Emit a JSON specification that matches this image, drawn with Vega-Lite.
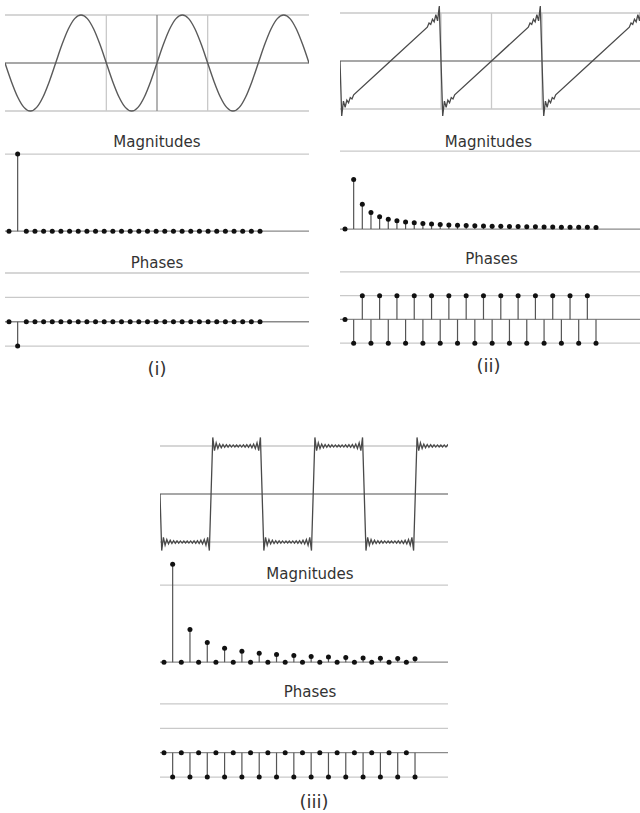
{
"$schema":"https://vega.github.io/schema/vega-lite/v6.json",
"padding":{"left":4,"top":3,"right":0,"bottom":0},
"background":"white",
"config":{"view":{"stroke":null},"title":{"font":"DejaVu Sans","fontSize":15,"fontWeight":"normal","color":"#333333","frame":"group","offset":4}},
"datasets":{
"sine":[{"t":0,"v":0},{"t":0.0625,"v":-0.383},{"t":0.125,"v":-0.707},{"t":0.1875,"v":-0.924},{"t":0.25,"v":-1},{"t":0.3125,"v":-0.924},{"t":0.375,"v":-0.707},{"t":0.4375,"v":-0.383},{"t":0.5,"v":0},{"t":0.5625,"v":0.383},{"t":0.625,"v":0.707},{"t":0.6875,"v":0.924},{"t":0.75,"v":1},{"t":0.8125,"v":0.924},{"t":0.875,"v":0.707},{"t":0.9375,"v":0.383},
{"t":1,"v":0},{"t":1.0625,"v":-0.383},{"t":1.125,"v":-0.707},{"t":1.1875,"v":-0.924},{"t":1.25,"v":-1},{"t":1.3125,"v":-0.924},{"t":1.375,"v":-0.707},{"t":1.4375,"v":-0.383},{"t":1.5,"v":0},{"t":1.5625,"v":0.383},{"t":1.625,"v":0.707},{"t":1.6875,"v":0.924},{"t":1.75,"v":1},{"t":1.8125,"v":0.924},{"t":1.875,"v":0.707},{"t":1.9375,"v":0.383},
{"t":2,"v":0},{"t":2.0625,"v":-0.383},{"t":2.125,"v":-0.707},{"t":2.1875,"v":-0.924},{"t":2.25,"v":-1},{"t":2.3125,"v":-0.924},{"t":2.375,"v":-0.707},{"t":2.4375,"v":-0.383},{"t":2.5,"v":0},{"t":2.5625,"v":0.383},{"t":2.625,"v":0.707},{"t":2.6875,"v":0.924},{"t":2.75,"v":1},{"t":2.8125,"v":0.924},{"t":2.875,"v":0.707},{"t":2.9375,"v":0.383},{"t":3,"v":0}],
"saw":[{"t":0,"v":0},{"t":0.0169,"v":-1.145},{"t":0.0339,"v":-0.835},{"t":0.0508,"v":-0.964},{"t":0.0678,"v":-0.814},{"t":0.0847,"v":-0.87},{"t":0.1017,"v":-0.763},{"t":0.1186,"v":-0.792},{"t":0.1356,"v":-0.704},{"t":0.5,"v":0},{"t":0.8644,"v":0.704},{"t":0.8814,"v":0.792},{"t":0.8983,"v":0.763},{"t":0.9153,"v":0.87},{"t":0.9322,"v":0.814},{"t":0.9492,"v":0.964},{"t":0.9661,"v":0.835},{"t":0.9831,"v":1.145},
{"t":1,"v":0},{"t":1.0169,"v":-1.145},{"t":1.0339,"v":-0.835},{"t":1.0508,"v":-0.964},{"t":1.0678,"v":-0.814},{"t":1.0847,"v":-0.87},{"t":1.1017,"v":-0.763},{"t":1.1186,"v":-0.792},{"t":1.1356,"v":-0.704},{"t":1.5,"v":0},{"t":1.8644,"v":0.704},{"t":1.8814,"v":0.792},{"t":1.8983,"v":0.763},{"t":1.9153,"v":0.87},{"t":1.9322,"v":0.814},{"t":1.9492,"v":0.964},{"t":1.9661,"v":0.835},{"t":1.9831,"v":1.145},
{"t":2,"v":0},{"t":2.0169,"v":-1.145},{"t":2.0339,"v":-0.835},{"t":2.0508,"v":-0.964},{"t":2.0678,"v":-0.814},{"t":2.0847,"v":-0.87},{"t":2.1017,"v":-0.763},{"t":2.1186,"v":-0.792},{"t":2.1356,"v":-0.704},{"t":2.5,"v":0},{"t":2.8644,"v":0.704},{"t":2.8814,"v":0.792},{"t":2.8983,"v":0.763},{"t":2.9153,"v":0.87},{"t":2.9322,"v":0.814},{"t":2.9492,"v":0.964},{"t":2.9661,"v":0.835},{"t":2.9831,"v":1.145},{"t":3,"v":0}],
"square":[{"t":0,"v":0},{"t":0.0167,"v":-1.179},{"t":0.0333,"v":-0.903},{"t":0.05,"v":-1.066},{"t":0.0667,"v":-0.95},{"t":0.0833,"v":-1.041},{"t":0.1,"v":-0.965},{"t":0.1167,"v":-1.031},{"t":0.1333,"v":-0.972},{"t":0.15,"v":-1.026},{"t":0.1667,"v":-0.976},{"t":0.1833,"v":-1.023},{"t":0.2,"v":-0.978},{"t":0.2167,"v":-1.022},{"t":0.2333,"v":-0.979},{"t":0.25,"v":-1.021},{"t":0.2667,"v":-0.979},{"t":0.2833,"v":-1.022},{"t":0.3,"v":-0.978},{"t":0.3167,"v":-1.023},{"t":0.3333,"v":-0.976},{"t":0.35,"v":-1.026},{"t":0.3667,"v":-0.972},{"t":0.3833,"v":-1.031},{"t":0.4,"v":-0.965},{"t":0.4167,"v":-1.041},{"t":0.4333,"v":-0.95},{"t":0.45,"v":-1.066},{"t":0.4667,"v":-0.903},{"t":0.4833,"v":-1.179},
{"t":0.5,"v":0},{"t":0.5167,"v":1.179},{"t":0.5333,"v":0.903},{"t":0.55,"v":1.066},{"t":0.5667,"v":0.95},{"t":0.5833,"v":1.041},{"t":0.6,"v":0.965},{"t":0.6167,"v":1.031},{"t":0.6333,"v":0.972},{"t":0.65,"v":1.026},{"t":0.6667,"v":0.976},{"t":0.6833,"v":1.023},{"t":0.7,"v":0.978},{"t":0.7167,"v":1.022},{"t":0.7333,"v":0.979},{"t":0.75,"v":1.021},{"t":0.7667,"v":0.979},{"t":0.7833,"v":1.022},{"t":0.8,"v":0.978},{"t":0.8167,"v":1.023},{"t":0.8333,"v":0.976},{"t":0.85,"v":1.026},{"t":0.8667,"v":0.972},{"t":0.8833,"v":1.031},{"t":0.9,"v":0.965},{"t":0.9167,"v":1.041},{"t":0.9333,"v":0.95},{"t":0.95,"v":1.066},{"t":0.9667,"v":0.903},{"t":0.9833,"v":1.179},
{"t":1,"v":0},{"t":1.0167,"v":-1.179},{"t":1.0333,"v":-0.903},{"t":1.05,"v":-1.066},{"t":1.0667,"v":-0.95},{"t":1.0833,"v":-1.041},{"t":1.1,"v":-0.965},{"t":1.1167,"v":-1.031},{"t":1.1333,"v":-0.972},{"t":1.15,"v":-1.026},{"t":1.1667,"v":-0.976},{"t":1.1833,"v":-1.023},{"t":1.2,"v":-0.978},{"t":1.2167,"v":-1.022},{"t":1.2333,"v":-0.979},{"t":1.25,"v":-1.021},{"t":1.2667,"v":-0.979},{"t":1.2833,"v":-1.022},{"t":1.3,"v":-0.978},{"t":1.3167,"v":-1.023},{"t":1.3333,"v":-0.976},{"t":1.35,"v":-1.026},{"t":1.3667,"v":-0.972},{"t":1.3833,"v":-1.031},{"t":1.4,"v":-0.965},{"t":1.4167,"v":-1.041},{"t":1.4333,"v":-0.95},{"t":1.45,"v":-1.066},{"t":1.4667,"v":-0.903},{"t":1.4833,"v":-1.179},
{"t":1.5,"v":0},{"t":1.5167,"v":1.179},{"t":1.5333,"v":0.903},{"t":1.55,"v":1.066},{"t":1.5667,"v":0.95},{"t":1.5833,"v":1.041},{"t":1.6,"v":0.965},{"t":1.6167,"v":1.031},{"t":1.6333,"v":0.972},{"t":1.65,"v":1.026},{"t":1.6667,"v":0.976},{"t":1.6833,"v":1.023},{"t":1.7,"v":0.978},{"t":1.7167,"v":1.022},{"t":1.7333,"v":0.979},{"t":1.75,"v":1.021},{"t":1.7667,"v":0.979},{"t":1.7833,"v":1.022},{"t":1.8,"v":0.978},{"t":1.8167,"v":1.023},{"t":1.8333,"v":0.976},{"t":1.85,"v":1.026},{"t":1.8667,"v":0.972},{"t":1.8833,"v":1.031},{"t":1.9,"v":0.965},{"t":1.9167,"v":1.041},{"t":1.9333,"v":0.95},{"t":1.95,"v":1.066},{"t":1.9667,"v":0.903},{"t":1.9833,"v":1.179},
{"t":2,"v":0},{"t":2.0167,"v":-1.179},{"t":2.0333,"v":-0.903},{"t":2.05,"v":-1.066},{"t":2.0667,"v":-0.95},{"t":2.0833,"v":-1.041},{"t":2.1,"v":-0.965},{"t":2.1167,"v":-1.031},{"t":2.1333,"v":-0.972},{"t":2.15,"v":-1.026},{"t":2.1667,"v":-0.976},{"t":2.1833,"v":-1.023},{"t":2.2,"v":-0.978},{"t":2.2167,"v":-1.022},{"t":2.2333,"v":-0.979},{"t":2.25,"v":-1.021},{"t":2.2667,"v":-0.979},{"t":2.2833,"v":-1.022},{"t":2.3,"v":-0.978},{"t":2.3167,"v":-1.023},{"t":2.3333,"v":-0.976},{"t":2.35,"v":-1.026},{"t":2.3667,"v":-0.972},{"t":2.3833,"v":-1.031},{"t":2.4,"v":-0.965},{"t":2.4167,"v":-1.041},{"t":2.4333,"v":-0.95},{"t":2.45,"v":-1.066},{"t":2.4667,"v":-0.903},{"t":2.4833,"v":-1.179},
{"t":2.5,"v":0},{"t":2.5167,"v":1.179},{"t":2.5333,"v":0.903},{"t":2.55,"v":1.066},{"t":2.5667,"v":0.95},{"t":2.5833,"v":1.041},{"t":2.6,"v":0.965},{"t":2.6167,"v":1.031},{"t":2.6333,"v":0.972},{"t":2.65,"v":1.026},{"t":2.6667,"v":0.976},{"t":2.6833,"v":1.023},{"t":2.7,"v":0.978},{"t":2.7167,"v":1.022},{"t":2.7333,"v":0.979},{"t":2.75,"v":1.021},{"t":2.7667,"v":0.979},{"t":2.7833,"v":1.022},{"t":2.8,"v":0.978},{"t":2.8167,"v":1.023},{"t":2.8333,"v":0.976}],
"spec":[{"k":0,"a1":0,"p1":0,"a2":0,"p2":0,"a3":0,"p3":0},{"k":1,"a1":1,"p1":-0.5,"a2":0.637,"p2":-0.5,"a3":1.273,"p3":-0.5},{"k":2,"a1":0,"p1":0,"a2":0.318,"p2":0.5,"a3":0,"p3":0},{"k":3,"a1":0,"p1":0,"a2":0.212,"p2":-0.5,"a3":0.424,"p3":-0.5},{"k":4,"a1":0,"p1":0,"a2":0.159,"p2":0.5,"a3":0,"p3":0},{"k":5,"a1":0,"p1":0,"a2":0.127,"p2":-0.5,"a3":0.255,"p3":-0.5},{"k":6,"a1":0,"p1":0,"a2":0.106,"p2":0.5,"a3":0,"p3":0},{"k":7,"a1":0,"p1":0,"a2":0.091,"p2":-0.5,"a3":0.182,"p3":-0.5},{"k":8,"a1":0,"p1":0,"a2":0.08,"p2":0.5,"a3":0,"p3":0},{"k":9,"a1":0,"p1":0,"a2":0.071,"p2":-0.5,"a3":0.141,"p3":-0.5},{"k":10,"a1":0,"p1":0,"a2":0.064,"p2":0.5,"a3":0,"p3":0},{"k":11,"a1":0,"p1":0,"a2":0.058,"p2":-0.5,"a3":0.116,"p3":-0.5},{"k":12,"a1":0,"p1":0,"a2":0.053,"p2":0.5,"a3":0,"p3":0},{"k":13,"a1":0,"p1":0,"a2":0.049,"p2":-0.5,"a3":0.098,"p3":-0.5},{"k":14,"a1":0,"p1":0,"a2":0.045,"p2":0.5,"a3":0,"p3":0},{"k":15,"a1":0,"p1":0,"a2":0.042,"p2":-0.5,"a3":0.085,"p3":-0.5},{"k":16,"a1":0,"p1":0,"a2":0.04,"p2":0.5,"a3":0,"p3":0},{"k":17,"a1":0,"p1":0,"a2":0.037,"p2":-0.5,"a3":0.075,"p3":-0.5},{"k":18,"a1":0,"p1":0,"a2":0.035,"p2":0.5,"a3":0,"p3":0},{"k":19,"a1":0,"p1":0,"a2":0.034,"p2":-0.5,"a3":0.067,"p3":-0.5},{"k":20,"a1":0,"p1":0,"a2":0.032,"p2":0.5,"a3":0,"p3":0},{"k":21,"a1":0,"p1":0,"a2":0.03,"p2":-0.5,"a3":0.061,"p3":-0.5},{"k":22,"a1":0,"p1":0,"a2":0.029,"p2":0.5,"a3":0,"p3":0},{"k":23,"a1":0,"p1":0,"a2":0.028,"p2":-0.5,"a3":0.055,"p3":-0.5},{"k":24,"a1":0,"p1":0,"a2":0.027,"p2":0.5,"a3":0,"p3":0},{"k":25,"a1":0,"p1":0,"a2":0.025,"p2":-0.5,"a3":0.051,"p3":-0.5},{"k":26,"a1":0,"p1":0,"a2":0.024,"p2":0.5,"a3":0,"p3":0},{"k":27,"a1":0,"p1":0,"a2":0.024,"p2":-0.5,"a3":0.047,"p3":-0.5},{"k":28,"a1":0,"p1":0,"a2":0.023,"p2":0.5,"a3":0,"p3":0},{"k":29,"a1":0,"p1":0,"a2":0.022,"p2":-0.5,"a3":0.044,"p3":-0.5}]
},
"spacing":55,
"vconcat":[
{"spacing":29,"hconcat":[
{"title":{"text":"(i)","orient":"bottom","fontSize":18,"frame":"bounds","offset":11,"anchor":"middle"},"spacing":12,"vconcat":[
{"width":304,"height":120,"layer":[
{"data":{"values":[{"g":-1},{"g":1}]},"mark":{"type":"rule","color":"#c9c9c9","strokeWidth":1.3},"encoding":{"y":{"field":"g","type":"quantitative","scale":{"domain":[-1.25,1.25],"nice":false,"zero":false},"axis":null}}},
{"data":{"values":[{"g":1},{"g":2}]},"mark":{"type":"rule","color":"#c9c9c9","strokeWidth":1.3},"encoding":{"x":{"field":"g","type":"quantitative","scale":{"domain":[0,3],"nice":false,"zero":false},"axis":null},"y":{"datum":-1,"type":"quantitative","scale":{"domain":[-1.25,1.25],"nice":false,"zero":false},"axis":null},"y2":{"datum":1}}},
{"data":{"values":[{"g":1.5}]},"mark":{"type":"rule","color":"#8a8a8a","strokeWidth":1.3},"encoding":{"x":{"field":"g","type":"quantitative","scale":{"domain":[0,3],"nice":false,"zero":false},"axis":null},"y":{"datum":-1,"type":"quantitative","scale":{"domain":[-1.25,1.25],"nice":false,"zero":false},"axis":null},"y2":{"datum":1}}},
{"data":{"values":[{"g":0}]},"mark":{"type":"rule","color":"#8a8a8a","strokeWidth":1.3},"encoding":{"y":{"field":"g","type":"quantitative","scale":{"domain":[-1.25,1.25],"nice":false,"zero":false},"axis":null}}},
{"data":{"name":"sine"},"mark":{"type":"line","color":"#5a5a5a","strokeWidth":1.4,"interpolate":"monotone","clip":true},"encoding":{"x":{"field":"t","type":"quantitative","scale":{"domain":[0,3],"nice":false,"zero":false},"axis":null},"y":{"field":"v","type":"quantitative","scale":{"domain":[-1.25,1.25],"nice":false,"zero":false},"axis":null}}}
]},
{"spacing":21,"vconcat":[
{"title":{"text":"Magnitudes","offset":1},"width":304,"height":84,"layer":[
{"data":{"values":[{"g":1}]},"mark":{"type":"rule","color":"#c9c9c9","strokeWidth":1.3},"encoding":{"y":{"field":"g","type":"quantitative","scale":{"domain":[-0.05,1.04],"nice":false,"zero":false},"axis":null}}},
{"data":{"values":[{"g":0}]},"mark":{"type":"rule","color":"#8a8a8a","strokeWidth":1.3},"encoding":{"y":{"field":"g","type":"quantitative","scale":{"domain":[-0.05,1.04],"nice":false,"zero":false},"axis":null}}},
{"data":{"name":"spec"},"mark":{"type":"rule","color":"#555555","strokeWidth":1.2},"encoding":{"x":{"field":"k","type":"quantitative","scale":{"domain":[-0.462,34.66],"nice":false,"zero":false},"axis":null},"y":{"field":"a1","type":"quantitative","scale":{"domain":[-0.05,1.04],"nice":false,"zero":false},"axis":null},"y2":{"datum":0}}},
{"data":{"name":"spec"},"mark":{"type":"point","filled":true,"shape":"circle","size":25,"color":"#111111","opacity":1},"encoding":{"x":{"field":"k","type":"quantitative","scale":{"domain":[-0.462,34.66],"nice":false,"zero":false},"axis":null},"y":{"field":"a1","type":"quantitative","scale":{"domain":[-0.05,1.04],"nice":false,"zero":false},"axis":null}}}
]},
{"title":{"text":"Phases","offset":1},"width":304,"height":78,"layer":[
{"data":{"values":[{"g":1},{"g":0.5},{"g":-0.5}]},"mark":{"type":"rule","color":"#c9c9c9","strokeWidth":1.3},"encoding":{"y":{"field":"g","type":"quantitative","scale":{"domain":[-0.58,1.02],"nice":false,"zero":false},"axis":null}}},
{"data":{"values":[{"g":0}]},"mark":{"type":"rule","color":"#8a8a8a","strokeWidth":1.3},"encoding":{"y":{"field":"g","type":"quantitative","scale":{"domain":[-0.58,1.02],"nice":false,"zero":false},"axis":null}}},
{"data":{"name":"spec"},"mark":{"type":"rule","color":"#555555","strokeWidth":1.2},"encoding":{"x":{"field":"k","type":"quantitative","scale":{"domain":[-0.462,34.66],"nice":false,"zero":false},"axis":null},"y":{"field":"p1","type":"quantitative","scale":{"domain":[-0.58,1.02],"nice":false,"zero":false},"axis":null},"y2":{"datum":0}}},
{"data":{"name":"spec"},"mark":{"type":"point","filled":true,"shape":"circle","size":25,"color":"#111111","opacity":1},"encoding":{"x":{"field":"k","type":"quantitative","scale":{"domain":[-0.462,34.66],"nice":false,"zero":false},"axis":null},"y":{"field":"p1","type":"quantitative","scale":{"domain":[-0.58,1.02],"nice":false,"zero":false},"axis":null}}}
]}
]}
]},
{"title":{"text":"(ii)","orient":"bottom","fontSize":18,"frame":"bounds","offset":11,"anchor":"middle","dx":-3},"spacing":12,"vconcat":[
{"width":303,"height":120,"layer":[
{"data":{"values":[{"g":-1},{"g":1}]},"mark":{"type":"rule","color":"#c9c9c9","strokeWidth":1.3},"encoding":{"y":{"field":"g","type":"quantitative","scale":{"domain":[-1.292,1.208],"nice":false,"zero":false},"axis":null}}},
{"data":{"values":[{"g":1},{"g":1.5},{"g":2}]},"mark":{"type":"rule","color":"#c9c9c9","strokeWidth":1.3},"encoding":{"x":{"field":"g","type":"quantitative","scale":{"domain":[0,3],"nice":false,"zero":false},"axis":null},"y":{"datum":-1,"type":"quantitative","scale":{"domain":[-1.292,1.208],"nice":false,"zero":false},"axis":null},"y2":{"datum":1}}},
{"data":{"values":[{"g":0}]},"mark":{"type":"rule","color":"#8a8a8a","strokeWidth":1.3},"encoding":{"y":{"field":"g","type":"quantitative","scale":{"domain":[-1.292,1.208],"nice":false,"zero":false},"axis":null}}},
{"data":{"name":"saw"},"mark":{"type":"line","color":"#4a4a4a","strokeWidth":1.3,"clip":true},"encoding":{"x":{"field":"t","type":"quantitative","scale":{"domain":[0,3],"nice":false,"zero":false},"axis":null},"y":{"field":"v","type":"quantitative","scale":{"domain":[-1.292,1.208],"nice":false,"zero":false},"axis":null}}}
]},
{"spacing":19,"vconcat":[
{"title":{"text":"Magnitudes","offset":-2,"dx":-3},"width":303,"height":85,"layer":[
{"data":{"values":[{"g":1}]},"mark":{"type":"rule","color":"#c9c9c9","strokeWidth":1.3},"encoding":{"y":{"field":"g","type":"quantitative","scale":{"domain":[-0.05,1.04],"nice":false,"zero":false},"axis":null}}},
{"data":{"values":[{"g":0}]},"mark":{"type":"rule","color":"#8a8a8a","strokeWidth":1.3},"encoding":{"y":{"field":"g","type":"quantitative","scale":{"domain":[-0.05,1.04],"nice":false,"zero":false},"axis":null}}},
{"data":{"name":"spec"},"mark":{"type":"rule","color":"#555555","strokeWidth":1.2},"encoding":{"x":{"field":"k","type":"quantitative","scale":{"domain":[-0.578,34.43],"nice":false,"zero":false},"axis":null},"y":{"field":"a2","type":"quantitative","scale":{"domain":[-0.05,1.04],"nice":false,"zero":false},"axis":null},"y2":{"datum":0}}},
{"data":{"name":"spec"},"mark":{"type":"point","filled":true,"shape":"circle","size":25,"color":"#111111","opacity":1},"encoding":{"x":{"field":"k","type":"quantitative","scale":{"domain":[-0.578,34.43],"nice":false,"zero":false},"axis":null},"y":{"field":"a2","type":"quantitative","scale":{"domain":[-0.05,1.04],"nice":false,"zero":false},"axis":null}}}
]},
{"title":{"text":"Phases","offset":4},"width":303,"height":76,"layer":[
{"data":{"values":[{"g":1},{"g":0.5},{"g":-0.5}]},"mark":{"type":"rule","color":"#c9c9c9","strokeWidth":1.3},"encoding":{"y":{"field":"g","type":"quantitative","scale":{"domain":[-0.58,1.02],"nice":false,"zero":false},"axis":null}}},
{"data":{"values":[{"g":0}]},"mark":{"type":"rule","color":"#8a8a8a","strokeWidth":1.3},"encoding":{"y":{"field":"g","type":"quantitative","scale":{"domain":[-0.58,1.02],"nice":false,"zero":false},"axis":null}}},
{"data":{"name":"spec"},"mark":{"type":"rule","color":"#555555","strokeWidth":1.2},"encoding":{"x":{"field":"k","type":"quantitative","scale":{"domain":[-0.578,34.43],"nice":false,"zero":false},"axis":null},"y":{"field":"p2","type":"quantitative","scale":{"domain":[-0.58,1.02],"nice":false,"zero":false},"axis":null},"y2":{"datum":0}}},
{"data":{"name":"spec"},"mark":{"type":"point","filled":true,"shape":"circle","size":25,"color":"#111111","opacity":1},"encoding":{"x":{"field":"k","type":"quantitative","scale":{"domain":[-0.578,34.43],"nice":false,"zero":false},"axis":null},"y":{"field":"p2","type":"quantitative","scale":{"domain":[-0.58,1.02],"nice":false,"zero":false},"axis":null}}}
]}
]}
]}
]},
{"spacing":10,"hconcat":[
{"width":144,"height":10,"data":{"values":[]},"mark":"point"},
{"title":{"text":"(iii)","orient":"bottom","fontSize":18,"frame":"bounds","offset":13,"anchor":"middle","dx":10},"spacing":7,"vconcat":[
{"width":288,"height":120,"layer":[
{"data":{"values":[{"g":-1},{"g":1}]},"mark":{"type":"rule","color":"#c9c9c9","strokeWidth":1.3},"encoding":{"y":{"field":"g","type":"quantitative","scale":{"domain":[-1.25,1.25],"nice":false,"zero":false},"axis":null}}},
{"data":{"values":[{"g":0}]},"mark":{"type":"rule","color":"#8a8a8a","strokeWidth":1.3},"encoding":{"y":{"field":"g","type":"quantitative","scale":{"domain":[-1.25,1.25],"nice":false,"zero":false},"axis":null}}},
{"data":{"name":"square"},"mark":{"type":"line","color":"#4a4a4a","strokeWidth":1.3,"clip":true},"encoding":{"x":{"field":"t","type":"quantitative","scale":{"domain":[0,2.82],"nice":false,"zero":false},"axis":null},"y":{"field":"v","type":"quantitative","scale":{"domain":[-1.25,1.25],"nice":false,"zero":false},"axis":null}}}
]},
{"spacing":19,"vconcat":[
{"title":{"text":"Magnitudes","dx":6,"offset":-21},"width":288,"height":105,"layer":[
{"data":{"values":[{"g":1}]},"mark":{"type":"rule","color":"#c9c9c9","strokeWidth":1.3},"encoding":{"y":{"field":"g","type":"quantitative","scale":{"domain":[-0.05,1.314],"nice":false,"zero":false},"axis":null}}},
{"data":{"values":[{"g":0}]},"mark":{"type":"rule","color":"#8a8a8a","strokeWidth":1.3},"encoding":{"y":{"field":"g","type":"quantitative","scale":{"domain":[-0.05,1.314],"nice":false,"zero":false},"axis":null}}},
{"data":{"name":"spec"},"mark":{"type":"rule","color":"#555555","strokeWidth":1.2},"encoding":{"x":{"field":"k","type":"quantitative","scale":{"domain":[-0.462,32.81],"nice":false,"zero":false},"axis":null},"y":{"field":"a3","type":"quantitative","scale":{"domain":[-0.05,1.314],"nice":false,"zero":false},"axis":null},"y2":{"datum":0}}},
{"data":{"name":"spec"},"mark":{"type":"point","filled":true,"shape":"circle","size":25,"color":"#111111","opacity":1},"encoding":{"x":{"field":"k","type":"quantitative","scale":{"domain":[-0.462,32.81],"nice":false,"zero":false},"axis":null},"y":{"field":"a3","type":"quantitative","scale":{"domain":[-0.05,1.314],"nice":false,"zero":false},"axis":null}}}
]},
{"title":{"text":"Phases","dx":6,"offset":3},"width":288,"height":78,"layer":[
{"data":{"values":[{"g":1},{"g":0.5},{"g":-0.5}]},"mark":{"type":"rule","color":"#c9c9c9","strokeWidth":1.3},"encoding":{"y":{"field":"g","type":"quantitative","scale":{"domain":[-0.58,1.02],"nice":false,"zero":false},"axis":null}}},
{"data":{"values":[{"g":0}]},"mark":{"type":"rule","color":"#8a8a8a","strokeWidth":1.3},"encoding":{"y":{"field":"g","type":"quantitative","scale":{"domain":[-0.58,1.02],"nice":false,"zero":false},"axis":null}}},
{"data":{"name":"spec"},"mark":{"type":"rule","color":"#555555","strokeWidth":1.2},"encoding":{"x":{"field":"k","type":"quantitative","scale":{"domain":[-0.462,32.81],"nice":false,"zero":false},"axis":null},"y":{"field":"p3","type":"quantitative","scale":{"domain":[-0.58,1.02],"nice":false,"zero":false},"axis":null},"y2":{"datum":0}}},
{"data":{"name":"spec"},"mark":{"type":"point","filled":true,"shape":"circle","size":25,"color":"#111111","opacity":1},"encoding":{"x":{"field":"k","type":"quantitative","scale":{"domain":[-0.462,32.81],"nice":false,"zero":false},"axis":null},"y":{"field":"p3","type":"quantitative","scale":{"domain":[-0.58,1.02],"nice":false,"zero":false},"axis":null}}}
]}
]}
]}
]}
]
}
